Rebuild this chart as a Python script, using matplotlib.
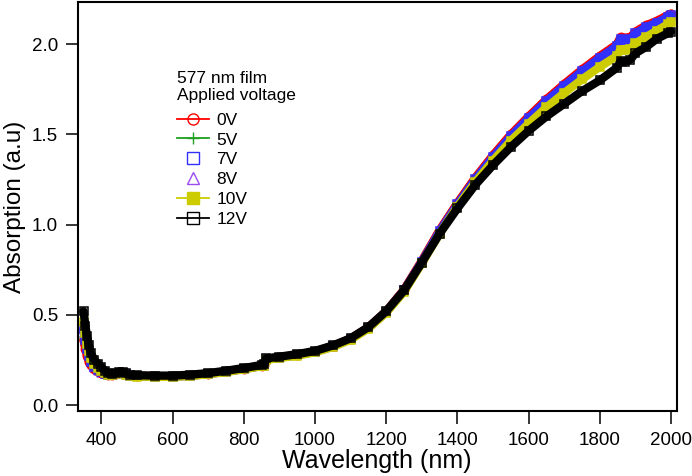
import matplotlib
matplotlib.use("Agg")
from matplotlib import pyplot as plt
from matplotlib.lines import Line2D

plt.rcParams["font.family"] = ["Liberation Sans", "DejaVu Sans"]

# wavelength grid (nm)
wavelength = [350, 355, 360, 365, 370, 380, 390, 400, 410, 420, 430, 440, 450, 460, 470, 480,
              500, 550, 600, 650, 700, 750, 800, 850, 858, 862, 900, 950, 1000, 1050, 1100,
              1150, 1200, 1250, 1300, 1350, 1400, 1450, 1500, 1550, 1600, 1650, 1700, 1750,
              1800, 1848, 1858, 1870, 1886, 1900, 1930, 1960, 1990, 2000]

abs_0v = [0.36, 0.31, 0.27, 0.24, 0.22, 0.20, 0.19, 0.18, 0.172, 0.168, 0.168, 0.174, 0.181, 0.180,
          0.172, 0.165, 0.162, 0.160, 0.160, 0.165, 0.174, 0.187, 0.202, 0.219, 0.222, 0.255, 0.265,
          0.279, 0.297, 0.327, 0.368, 0.43, 0.52, 0.64, 0.80, 0.97, 1.12, 1.26, 1.385, 1.50, 1.60,
          1.695, 1.78, 1.86, 1.935, 2.0, 2.04, 2.035, 2.04, 2.07, 2.105, 2.13, 2.16, 2.17]
abs_5v = [0.37, 0.32, 0.28, 0.25, 0.225, 0.20, 0.19, 0.18, 0.171, 0.167, 0.167, 0.173, 0.180, 0.179,
          0.171, 0.164, 0.161, 0.159, 0.159, 0.164, 0.173, 0.186, 0.201, 0.218, 0.221, 0.254, 0.264,
          0.278, 0.296, 0.326, 0.367, 0.429, 0.519, 0.638, 0.797, 0.967, 1.117, 1.256, 1.381, 1.496, 1.596,
          1.691, 1.776, 1.856, 1.931, 1.996, 2.036, 2.031, 2.036, 2.066, 2.101, 2.126, 2.156, 2.166]
abs_7v = [0.42, 0.36, 0.31, 0.27, 0.24, 0.21, 0.195, 0.182, 0.172, 0.167, 0.166, 0.172, 0.179, 0.178,
          0.170, 0.163, 0.160, 0.158, 0.158, 0.163, 0.172, 0.185, 0.200, 0.217, 0.220, 0.253, 0.263,
          0.277, 0.295, 0.325, 0.366, 0.428, 0.517, 0.636, 0.794, 0.963, 1.112, 1.251, 1.375, 1.49, 1.59,
          1.685, 1.77, 1.85, 1.925, 1.99, 2.03, 2.025, 2.03, 2.06, 2.095, 2.12, 2.15, 2.16]
abs_8v = [0.40, 0.35, 0.30, 0.265, 0.235, 0.205, 0.19, 0.18, 0.17, 0.166, 0.165, 0.171, 0.178, 0.177,
          0.169, 0.162, 0.159, 0.157, 0.157, 0.162, 0.171, 0.184, 0.199, 0.216, 0.219, 0.252, 0.262,
          0.276, 0.294, 0.324, 0.365, 0.427, 0.516, 0.634, 0.792, 0.96, 1.109, 1.248, 1.372, 1.487, 1.587,
          1.682, 1.767, 1.847, 1.922, 1.987, 2.027, 2.022, 2.027, 2.057, 2.092, 2.117, 2.147, 2.157]
abs_10v = [0.46, 0.40, 0.34, 0.30, 0.26, 0.225, 0.205, 0.19, 0.175, 0.167, 0.165, 0.170, 0.177, 0.176,
           0.168, 0.161, 0.158, 0.156, 0.156, 0.161, 0.170, 0.183, 0.198, 0.215, 0.218, 0.25, 0.26,
           0.274, 0.292, 0.322, 0.362, 0.424, 0.512, 0.628, 0.785, 0.95, 1.10, 1.235, 1.355, 1.465, 1.56,
           1.65, 1.73, 1.805, 1.875, 1.935, 1.97, 1.968, 1.975, 2.005, 2.04, 2.075, 2.11, 2.125]
abs_12v = [0.52, 0.44, 0.38, 0.33, 0.29, 0.25, 0.23, 0.21, 0.19, 0.175, 0.172, 0.178, 0.185, 0.184,
           0.175, 0.168, 0.165, 0.163, 0.163, 0.168, 0.177, 0.19, 0.205, 0.222, 0.225, 0.258, 0.268,
           0.282, 0.30, 0.33, 0.37, 0.432, 0.52, 0.635, 0.79, 0.95, 1.09, 1.22, 1.33, 1.43, 1.52,
           1.60, 1.67, 1.74, 1.80, 1.87, 1.905, 1.90, 1.915, 1.95, 1.985, 2.03, 2.06, 2.07]

labels = ["0V", "5V", "7V", "8V", "10V", "12V"]
series = [abs_0v, abs_5v, abs_7v, abs_8v, abs_10v, abs_12v]
colors = ["#ff0000", "#1f9f1f", "#3030ff", "#9a4cf0", "#cccc00", "#000000"]
markers = ["o", "+", "s", "^", "s", "s"]
fills = ["none", "none", "none", "none", "full", "none"]
has_line = [True, True, False, False, True, True]
# stacking order: thin red edge above blue, yellow and black bands in front
zorders = [3, 2, 5, 1, 6, 7]

fig, ax = plt.subplots(figsize=(6.92, 4.76), dpi=100)
fig.subplots_adjust(left=0.112, right=0.978, bottom=0.137, top=0.995)

for vals, c, m, f, z in zip(series, colors, markers, fills, zorders):
    ax.plot(wavelength, vals, color=c, lw=6, solid_joinstyle="round", solid_capstyle="round",
            zorder=z)
    ax.plot(wavelength, vals, ls="none", marker=m, ms=6, mew=1.1, color=c,
            mfc=c if f == "full" else "none", mec=c, zorder=z)

ax.set_xlim(333, 2016)
ax.set_ylim(-0.032, 2.232)
ax.set_xticks([400, 600, 800, 1000, 1200, 1400, 1600, 1800, 2000])
ax.set_yticks([0.0, 0.5, 1.0, 1.5, 2.0])
ax.set_yticklabels(["0.0", "0.5", "1.0", "1.5", "2.0"])
ax.tick_params(direction="out", length=9, width=1.1, labelsize=13.5, pad=5)
ax.tick_params(axis="x", pad=6)
for s in ax.spines.values():
    s.set_linewidth(1.5)
    s.set_zorder(10)

ax.set_xlabel("Wavelength (nm)", fontsize=18, labelpad=0)
ax.set_ylabel("Absorption (a.u)", fontsize=17.5, labelpad=4)

handles = []
for c, m, f, hl in zip(colors, markers, fills, has_line):
    handles.append(Line2D([], [], color=c, lw=1.3 if hl else 0, ls="-" if hl else "none",
                          marker=m, ms=8, mew=1.0, mfc=c if f == "full" else "none", mec=c))
leg = ax.legend(handles, labels, title="577 nm film\nApplied voltage", loc="upper left",
                bbox_to_anchor=(0.151, 0.853), frameon=False, fontsize=12.5, title_fontsize=12.5,
                handlelength=1.85, handletextpad=0.45, labelspacing=0.27, borderpad=0,
                alignment="left")
leg._legend_box.sep = 6.5

fig.savefig("out.png", dpi=100)
